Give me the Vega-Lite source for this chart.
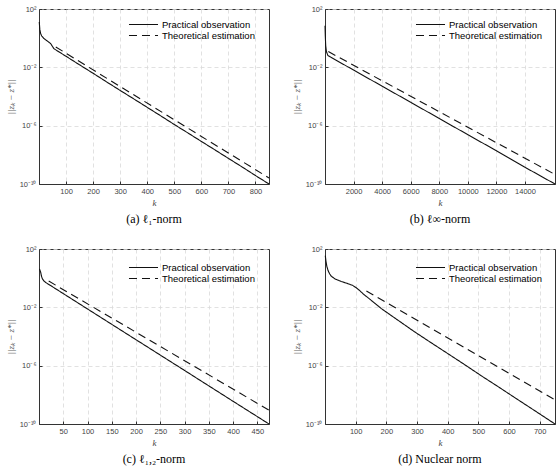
{
  "$schema": "https://vega.github.io/schema/vega-lite/v6.json",
  "background": "white",
  "padding": {"left": 5, "top": 4, "right": 5, "bottom": 5},
  "spacing": 19,
  "resolve": {"scale": {"strokeDash": "independent"}, "legend": {"strokeDash": "independent"}},
  "datasets": {
    "a": [
      {"s": "Practical observation", "k": 1, "v": 13},
      {"s": "Practical observation", "k": 3, "v": 4},
      {"s": "Practical observation", "k": 6, "v": 2.1},
      {"s": "Practical observation", "k": 10, "v": 1.4},
      {"s": "Practical observation", "k": 18, "v": 0.95},
      {"s": "Practical observation", "k": 30, "v": 0.65},
      {"s": "Practical observation", "k": 43, "v": 0.43},
      {"s": "Practical observation", "k": 55, "v": 0.19},
      {"s": "Practical observation", "k": 100, "v": 0.057},
      {"s": "Practical observation", "k": 150, "v": 0.0148},
      {"s": "Practical observation", "k": 200, "v": 0.0039},
      {"s": "Practical observation", "k": 250, "v": 0.001},
      {"s": "Practical observation", "k": 300, "v": 0.00026},
      {"s": "Practical observation", "k": 350, "v": 6.9e-5},
      {"s": "Practical observation", "k": 400, "v": 1.8e-5},
      {"s": "Practical observation", "k": 450, "v": 4.7e-6},
      {"s": "Practical observation", "k": 500, "v": 1.2e-6},
      {"s": "Practical observation", "k": 550, "v": 3.2e-7},
      {"s": "Practical observation", "k": 600, "v": 8.3e-8},
      {"s": "Practical observation", "k": 650, "v": 2.2e-8},
      {"s": "Practical observation", "k": 700, "v": 5.7e-9},
      {"s": "Practical observation", "k": 750, "v": 1.5e-9},
      {"s": "Practical observation", "k": 800, "v": 3.8e-10},
      {"s": "Practical observation", "k": 850, "v": 1e-10},
      {"s": "Theoretical estimation", "k": 62, "v": 0.25},
      {"s": "Theoretical estimation", "k": 850, "v": 2.6e-10}
    ],
    "b": [
      {"s": "Practical observation", "k": 1, "v": 7},
      {"s": "Practical observation", "k": 20, "v": 1.5},
      {"s": "Practical observation", "k": 50, "v": 0.3},
      {"s": "Practical observation", "k": 100, "v": 0.12},
      {"s": "Practical observation", "k": 200, "v": 0.065},
      {"s": "Practical observation", "k": 400, "v": 0.05},
      {"s": "Practical observation", "k": 2000, "v": 0.0065},
      {"s": "Practical observation", "k": 4000, "v": 0.00051},
      {"s": "Practical observation", "k": 6000, "v": 4.0e-5},
      {"s": "Practical observation", "k": 8000, "v": 3.1e-6},
      {"s": "Practical observation", "k": 10000, "v": 2.4e-7},
      {"s": "Practical observation", "k": 12000, "v": 1.9e-8},
      {"s": "Practical observation", "k": 14000, "v": 1.4e-9},
      {"s": "Practical observation", "k": 16100, "v": 1e-10},
      {"s": "Theoretical estimation", "k": 233, "v": 0.12},
      {"s": "Theoretical estimation", "k": 16100, "v": 4.5e-10}
    ],
    "c": [
      {"s": "Practical observation", "k": 1, "v": 4.3},
      {"s": "Practical observation", "k": 2, "v": 3.5},
      {"s": "Practical observation", "k": 3.5, "v": 2.5},
      {"s": "Practical observation", "k": 5, "v": 1.4},
      {"s": "Practical observation", "k": 7, "v": 0.9},
      {"s": "Practical observation", "k": 10, "v": 0.65},
      {"s": "Practical observation", "k": 14, "v": 0.5},
      {"s": "Practical observation", "k": 24, "v": 0.31},
      {"s": "Practical observation", "k": 50, "v": 0.0875},
      {"s": "Practical observation", "k": 100, "v": 0.0077},
      {"s": "Practical observation", "k": 150, "v": 0.00068},
      {"s": "Practical observation", "k": 200, "v": 6.0e-5},
      {"s": "Practical observation", "k": 250, "v": 5.3e-6},
      {"s": "Practical observation", "k": 300, "v": 4.7e-7},
      {"s": "Practical observation", "k": 350, "v": 4.1e-8},
      {"s": "Practical observation", "k": 400, "v": 3.6e-9},
      {"s": "Practical observation", "k": 450, "v": 3.2e-10},
      {"s": "Practical observation", "k": 474, "v": 1e-10},
      {"s": "Theoretical estimation", "k": 20, "v": 0.63},
      {"s": "Theoretical estimation", "k": 474, "v": 8.9e-10}
    ],
    "d": [
      {"s": "Practical observation", "k": 1, "v": 35},
      {"s": "Practical observation", "k": 3, "v": 15},
      {"s": "Practical observation", "k": 6, "v": 6.5},
      {"s": "Practical observation", "k": 10, "v": 3.3},
      {"s": "Practical observation", "k": 15, "v": 2.0},
      {"s": "Practical observation", "k": 20, "v": 1.4},
      {"s": "Practical observation", "k": 32, "v": 0.9},
      {"s": "Practical observation", "k": 53, "v": 0.59},
      {"s": "Practical observation", "k": 75, "v": 0.42},
      {"s": "Practical observation", "k": 90, "v": 0.32},
      {"s": "Practical observation", "k": 102, "v": 0.22},
      {"s": "Practical observation", "k": 115, "v": 0.13},
      {"s": "Practical observation", "k": 124, "v": 0.085},
      {"s": "Practical observation", "k": 140, "v": 0.046},
      {"s": "Practical observation", "k": 160, "v": 0.021},
      {"s": "Practical observation", "k": 184, "v": 0.0081},
      {"s": "Practical observation", "k": 250, "v": 0.00087},
      {"s": "Practical observation", "k": 292, "v": 0.00021},
      {"s": "Practical observation", "k": 350, "v": 3.3e-5},
      {"s": "Practical observation", "k": 401, "v": 6.6e-6},
      {"s": "Practical observation", "k": 450, "v": 1.4e-6},
      {"s": "Practical observation", "k": 510, "v": 2.0e-7},
      {"s": "Practical observation", "k": 560, "v": 4.2e-8},
      {"s": "Practical observation", "k": 618, "v": 6.6e-9},
      {"s": "Practical observation", "k": 680, "v": 9.3e-10},
      {"s": "Practical observation", "k": 750, "v": 1e-10},
      {"s": "Theoretical estimation", "k": 135, "v": 0.13},
      {"s": "Theoretical estimation", "k": 750, "v": 4.6e-9}
    ]
  },
  "vconcat": [
    {
      "hconcat": [
        {
          "width": 230, "height": 175,
          "title": {"text": "(a) ℓ₁-norm"},
          "data": {"name": "a"},
          "mark": {"type": "line", "color": "#111", "strokeWidth": 1.1},
          "encoding": {
            "x": {"field": "k", "type": "quantitative", "scale": {"domain": [0, 850], "nice": false, "zero": false}, "axis": {"values": [100, 200, 300, 400, 500, 600, 700, 800], "title": "k", "format": "d"}},
            "y": {"field": "v", "type": "quantitative", "scale": {"type": "log", "domain": [1e-10, 100], "nice": false}, "axis": {"values": [1e-10, 1e-6, 0.01, 100], "title": "||zₖ − z*||", "labelExpr": "datum.value >= 50 ? '10²' : datum.value >= 0.005 ? '10⁻²' : datum.value >= 5e-7 ? '10⁻⁶' : '10⁻¹⁰'"}},
            "strokeDash": {"field": "s", "type": "nominal", "scale": {"domain": ["Practical observation", "Theoretical estimation"], "range": [[1, 0], [8, 5]]}, "legend": {"legendX": 98, "legendY": 9}}
          }
        },
        {
          "width": 230, "height": 175,
          "title": {"text": "(b) ℓ∞-norm"},
          "data": {"name": "b"},
          "mark": {"type": "line", "color": "#111", "strokeWidth": 1.1},
          "encoding": {
            "x": {"field": "k", "type": "quantitative", "scale": {"domain": [0, 16100], "nice": false, "zero": false}, "axis": {"values": [2000, 4000, 6000, 8000, 10000, 12000, 14000], "title": "k", "format": "d"}},
            "y": {"field": "v", "type": "quantitative", "scale": {"type": "log", "domain": [1e-10, 100], "nice": false}, "axis": {"values": [1e-10, 1e-6, 0.01, 100], "title": "||zₖ − z*||", "labelExpr": "datum.value >= 50 ? '10²' : datum.value >= 0.005 ? '10⁻²' : datum.value >= 5e-7 ? '10⁻⁶' : '10⁻¹⁰'"}},
            "strokeDash": {"field": "s", "type": "nominal", "scale": {"domain": ["Practical observation", "Theoretical estimation"], "range": [[1, 0], [8, 5]]}, "legend": {"legendX": 99, "legendY": 9}}
          }
        }
      ],
      "spacing": 56,
      "bounds": "flush",
      "resolve": {"scale": {"strokeDash": "independent"}, "legend": {"strokeDash": "independent"}}
    },
    {
      "hconcat": [
        {
          "width": 230, "height": 175,
          "title": {"text": "(c) ℓ₁,₂-norm"},
          "data": {"name": "c"},
          "mark": {"type": "line", "color": "#111", "strokeWidth": 1.1},
          "encoding": {
            "x": {"field": "k", "type": "quantitative", "scale": {"domain": [0, 474], "nice": false, "zero": false}, "axis": {"values": [50, 100, 150, 200, 250, 300, 350, 400, 450], "title": "k", "format": "d"}},
            "y": {"field": "v", "type": "quantitative", "scale": {"type": "log", "domain": [1e-10, 100], "nice": false}, "axis": {"values": [1e-10, 1e-6, 0.01, 100], "title": "||zₖ − z*||", "labelExpr": "datum.value >= 50 ? '10²' : datum.value >= 0.005 ? '10⁻²' : datum.value >= 5e-7 ? '10⁻⁶' : '10⁻¹⁰'"}},
            "strokeDash": {"field": "s", "type": "nominal", "scale": {"domain": ["Practical observation", "Theoretical estimation"], "range": [[1, 0], [8, 5]]}, "legend": {"legendX": 98, "legendY": 12}}
          }
        },
        {
          "width": 230, "height": 175,
          "title": {"text": "(d) Nuclear norm"},
          "data": {"name": "d"},
          "mark": {"type": "line", "color": "#111", "strokeWidth": 1.1},
          "encoding": {
            "x": {"field": "k", "type": "quantitative", "scale": {"domain": [0, 750], "nice": false, "zero": false}, "axis": {"values": [100, 200, 300, 400, 500, 600, 700], "title": "k", "format": "d"}},
            "y": {"field": "v", "type": "quantitative", "scale": {"type": "log", "domain": [1e-10, 100], "nice": false}, "axis": {"values": [1e-10, 1e-6, 0.01, 100], "title": "||zₖ − z*||", "labelExpr": "datum.value >= 50 ? '10²' : datum.value >= 0.005 ? '10⁻²' : datum.value >= 5e-7 ? '10⁻⁶' : '10⁻¹⁰'"}},
            "strokeDash": {"field": "s", "type": "nominal", "scale": {"domain": ["Practical observation", "Theoretical estimation"], "range": [[1, 0], [8, 5]]}, "legend": {"legendX": 99, "legendY": 12}}
          }
        }
      ],
      "spacing": 56,
      "bounds": "flush",
      "resolve": {"scale": {"strokeDash": "independent"}, "legend": {"strokeDash": "independent"}}
    }
  ],
  "config": {
    "view": {"stroke": "#333", "strokeWidth": 1},
    "title": {"orient": "bottom", "font": "Liberation Serif", "fontSize": 12, "fontWeight": "normal", "color": "#000", "offset": 6, "anchor": "middle"},
    "axis": {
      "labelFont": "Liberation Sans", "labelFontSize": 7.5, "labelColor": "#444",
      "titleFont": "Liberation Serif", "titleFontStyle": "italic", "titleFontWeight": "normal", "titleFontSize": 9, "titleColor": "#444",
      "grid": true, "gridColor": "#d9d9d9", "gridDash": [4, 3], "gridWidth": 0.8,
      "domainColor": "#333", "tickColor": "#333", "tickSize": -3, "labelPadding": 6
    },
    "axisX": {"titlePadding": 4},
    "axisY": {"titlePadding": 4},
    "legend": {"orient": "none", "title": null, "labelFont": "Liberation Sans", "labelFontSize": 9.5, "labelColor": "#000", "symbolType": "M-2.65,0H2.65", "symbolSize": 120, "symbolStrokeWidth": 1.1, "symbolStrokeColor": "#111", "labelOffset": 12, "rowPadding": 0, "padding": 0}
  }
}
